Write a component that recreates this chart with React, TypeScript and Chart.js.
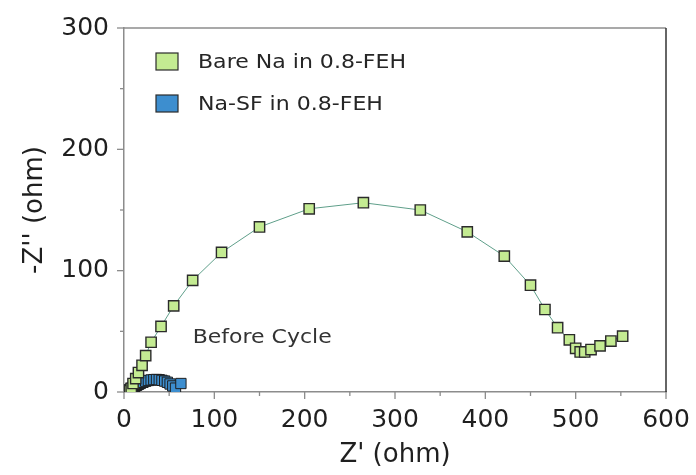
import React, { useEffect, useRef } from 'react';
import { Chart, registerables } from 'chart.js';

Chart.register(...registerables);

// ---- data ----
const bareZre = [6, 8, 10, 13, 16, 20, 24, 30, 41, 55, 76, 108, 150, 205, 265, 328, 380, 421, 450, 466, 480, 493, 500, 505, 510, 517, 527, 539, 552];
const bareZim = [1, 3, 7, 11, 16, 22, 30, 41, 54, 71, 92, 115, 136, 151, 156, 150, 132, 112, 88, 68, 53, 43, 36, 33, 33, 35, 38, 42, 46];

const sfZre = [3, 4, 5, 6, 7, 8, 9, 10, 12, 14, 16, 18, 21, 24, 27, 30, 33, 36, 39, 42, 45, 48, 51, 54, 57, 63];
const sfZim = [0.3, 0.8, 1.3, 1.8, 2.3, 2.8, 3.3, 3.8, 4.7, 5.5, 6.3, 7.1, 8.0, 8.9, 9.5, 9.9, 10.2, 10.3, 10.1, 9.6, 9.0, 8.0, 6.6, 5.0, 3.2, 7];

const seriesLabels = ['Bare Na in 0.8-FEH', 'Na-SF in 0.8-FEH'];
const seriesFill = ['#c4eb92', '#3d8ecf'];
const seriesLine = ['#5f9f8a', '#3d8ecf'];

const xMin = 0, xMax = 600, xMajor = 100, xMinor = 50;
const yMin = 0, yMax = 300, yMajor = 100, yMinor = 50;

const xTitle = "Z' (ohm)";
const yTitle = "-Z'' (ohm)";
const noteText = 'Before Cycle';
const noteAt = { x: 76, y: 40 };

const FONT = "'DejaVu Sans', sans-serif";

const extras = {
  id: 'extras',
  afterDraw(chart: any) {
    const { ctx, chartArea: a, scales } = chart;
    const sx = scales.x, sy = scales.y;
    ctx.save();
    // frame top/right
    ctx.lineWidth = 1.5;
    ctx.strokeStyle = '#8c8c8c';
    ctx.beginPath();
    ctx.moveTo(a.left, a.top);
    ctx.lineTo(a.right, a.top);
    ctx.stroke();
    ctx.strokeStyle = '#333333';
    ctx.beginPath();
    ctx.moveTo(a.right, a.top);
    ctx.lineTo(a.right, a.bottom);
    ctx.stroke();

    // ticks
    ctx.strokeStyle = '#8c8c8c';
    ctx.lineWidth = 1.3;
    for (let v = xMin; v <= xMax; v += xMinor) {
      const p = sx.getPixelForValue(v);
      const len = v % xMajor === 0 ? 7 : 4;
      ctx.beginPath();
      ctx.moveTo(p, a.bottom);
      ctx.lineTo(p, a.bottom + len);
      ctx.stroke();
    }
    for (let v = yMin; v <= yMax; v += yMinor) {
      const p = sy.getPixelForValue(v);
      const len = v % yMajor === 0 ? 7 : 4;
      ctx.beginPath();
      ctx.moveTo(a.left, p);
      ctx.lineTo(a.left - len, p);
      ctx.stroke();
    }

    // legend
    const lx = a.left + 32;
    let ly = a.top + 25;
    chart.data.datasets.forEach((ds: any) => {
      ctx.fillStyle = ds.pointBackgroundColor;
      ctx.fillRect(lx, ly, 22, 17);
      ctx.strokeStyle = '#2b2b2b';
      ctx.lineWidth = 1.2;
      ctx.strokeRect(lx, ly, 22, 17);
      ctx.save();
      ctx.translate(lx + 42, ly + 15);
      ctx.scale(1.16, 1);
      ctx.font = `19px ${FONT}`;
      ctx.fillStyle = '#262626';
      ctx.textBaseline = 'alphabetic';
      ctx.textAlign = 'left';
      ctx.fillText(ds.label, 0, 0);
      ctx.restore();
      ly += 42;
    });

    // annotation
    ctx.save();
    ctx.translate(sx.getPixelForValue(noteAt.x), sy.getPixelForValue(noteAt.y));
    ctx.scale(1.1, 1);
    ctx.font = `20px ${FONT}`;
    ctx.fillStyle = '#333333';
    ctx.textBaseline = 'alphabetic';
    ctx.fillText(noteText, 0, 0);
    ctx.restore();

    ctx.restore();
  },
};

export default function App() {
  const ref = useRef<HTMLCanvasElement>(null);
  useEffect(() => {
    if (!ref.current) return;
    const chart = new Chart(ref.current, {
      type: 'scatter',
      data: {
        datasets: [
          {
            label: seriesLabels[0],
            data: bareZre.map((x, i) => ({ x, y: bareZim[i] })),
            showLine: true,
            borderColor: seriesLine[0],
            borderWidth: 1,
            pointStyle: 'rect',
            pointRadius: 7.3,
            pointHoverRadius: 7.3,
            pointBackgroundColor: seriesFill[0],
            pointBorderColor: '#2b2b2b',
            pointBorderWidth: 1.4,
          },
          {
            label: seriesLabels[1],
            data: sfZre.map((x, i) => ({ x, y: sfZim[i] })),
            showLine: true,
            borderColor: seriesLine[1],
            borderWidth: 1,
            pointStyle: 'rect',
            pointRadius: 7.3,
            pointHoverRadius: 7.3,
            pointBackgroundColor: seriesFill[1],
            pointBorderColor: '#1e1e1e',
            pointBorderWidth: 1,
          },
        ],
      },
      plugins: [extras],
      options: {
        responsive: false,
        animation: false,
        layout: { padding: { top: 28, right: 30, left: 0, bottom: 0 } },
        plugins: {
          legend: { display: false },
          tooltip: { enabled: false },
        },
        scales: {
          x: {
            type: 'linear',
            min: xMin,
            max: xMax,
            afterFit: (s: any) => { s.height = 83; },
            grid: { display: false },
            border: { display: true, color: '#8c8c8c', width: 1.5 },
            ticks: {
              stepSize: xMinor,
              autoSkip: false,
              maxRotation: 0,
              padding: 5,
              color: '#1f1f1f',
              font: { family: FONT, size: 25 },
              callback: (v: any) => (Number(v) % xMajor === 0 ? String(v) : ''),
            },
            title: {
              display: true,
              text: xTitle,
              color: '#1f1f1f',
              font: { family: FONT, size: 26 },
              padding: { top: 0, bottom: 4 },
            },
          },
          y: {
            type: 'linear',
            min: yMin,
            max: yMax,
            afterFit: (s: any) => { s.width = 124; },
            grid: { display: false },
            border: { display: true, color: '#8c8c8c', width: 1.5 },
            ticks: {
              stepSize: yMinor,
              autoSkip: false,
              padding: 7,
              color: '#1f1f1f',
              font: { family: FONT, size: 25 },
              callback: (v: any) => (Number(v) % yMajor === 0 ? String(v) : ''),
            },
            title: {
              display: true,
              text: yTitle,
              color: '#1f1f1f',
              font: { family: FONT, size: 26 },
              padding: { top: 20, bottom: 0 },
            },
          },
        },
      },
    });
    return () => chart.destroy();
  }, []);
  return (
    <canvas
      ref={ref}
      width={696}
      height={475}
      style={{ position: 'absolute', left: 0, top: 0, display: 'block', width: 696, height: 475 }}
    />
  );
}
